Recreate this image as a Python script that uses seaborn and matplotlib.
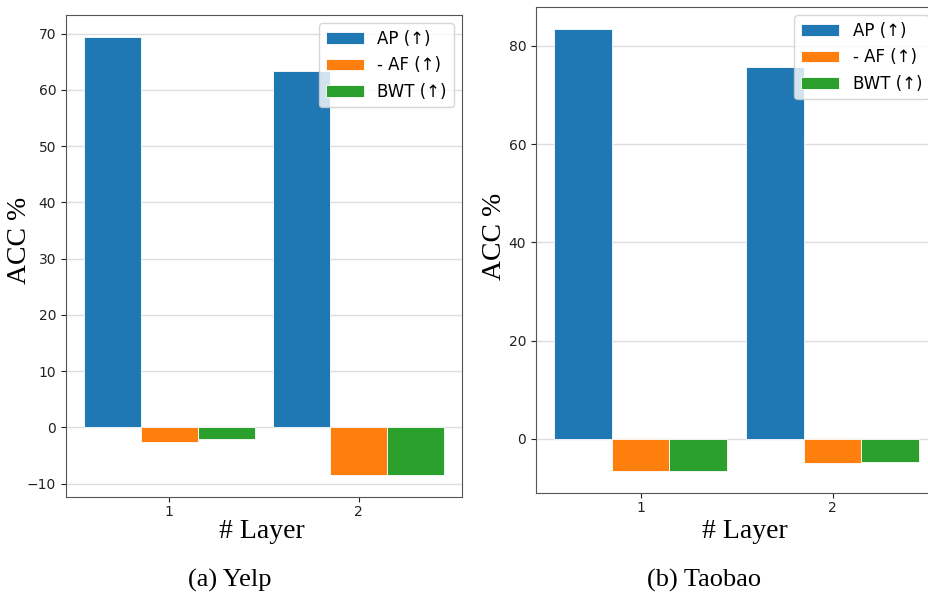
import pandas as pd
import matplotlib
matplotlib.use('Agg')
import matplotlib.pyplot as plt
import seaborn as sns

# values
layers = ['1', '2']
metrics = ['AP (\u2191)', '- AF (\u2191)', 'BWT (\u2191)']

yelp_ap = [69.4, 63.4]
yelp_af = [-2.7, -8.5]
yelp_bwt = [-2.0, -8.5]

taobao_ap = [83.4, 75.6]
taobao_af = [-6.5, -4.8]
taobao_bwt = [-6.5, -4.6]

captions = ['(a) Yelp', '(b) Taobao']


def make_df(ap, af, bwt):
    rows = []
    for m, vals in zip(metrics, [ap, af, bwt]):
        for l, v in zip(layers, vals):
            rows.append({'layer': l, 'metric': m, 'value': v})
    return pd.DataFrame(rows)


dfs = [make_df(yelp_ap, yelp_af, yelp_bwt), make_df(taobao_ap, taobao_af, taobao_bwt)]

plt.rcParams['font.family'] = ['DejaVu Sans']
serif = 'Liberation Serif'
colors = ['#1f77b4', '#ff7f0e', '#2ca02c']

fig = plt.figure(figsize=(9.29, 5.94), dpi=100)
positions = [[0.0710, 0.1633, 0.4263, 0.8114],
             [0.5770, 0.1700, 0.4317, 0.8182]]
ylab_xy = [(-0.086, 0.533), (-0.072, 0.529)]
xlab_xy = [(0.495, -0.046), (0.521, -0.054)]

for i, d in enumerate(dfs):
    ax = fig.add_axes(positions[i])
    sns.barplot(data=d, x='layer', y='value', hue='metric', order=layers,
                hue_order=metrics, palette=colors, saturation=1, width=0.9,
                edgecolor='white', linewidth=0.6, ax=ax, zorder=3)
    ax.set_xlim(-0.545, 1.545)
    ax.grid(axis='y', color='#dddddd', linewidth=1.0, zorder=0)
    ax.set_axisbelow(True)
    for s in ax.spines.values():
        s.set_color('#555555')
    ax.tick_params(labelsize=10, colors='#222222')
    ax.tick_params(axis='x', pad=2.5)
    ax.set_ylabel('ACC %', fontsize=20, family=serif)
    ax.set_xlabel('# Layer', fontsize=20, family=serif)
    ax.yaxis.set_label_coords(*ylab_xy[i])
    ax.xaxis.set_label_coords(*xlab_xy[i])
    ax.legend(loc='upper right', fontsize=12, handlelength=2.3)

fig.text(0.2476, 0.0118, captions[0], fontsize=19, family=serif, ha='center', va='baseline')
fig.text(0.758, 0.0118, captions[1], fontsize=19, family=serif, ha='center', va='baseline')

plt.savefig('out.png', dpi=100)
